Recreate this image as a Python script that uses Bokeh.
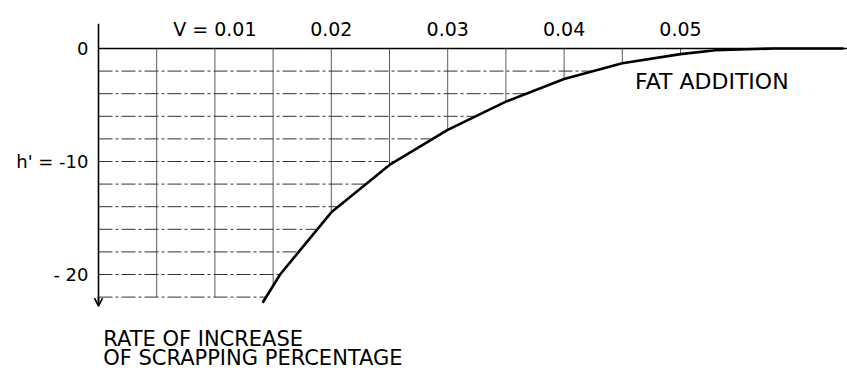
import numpy as np
from bokeh.plotting import figure
from bokeh.models import Range1d, Arrow, OpenHead, Label
from bokeh.core.properties import value
from bokeh.embed import file_html
from bokeh.resources import INLINE

# ---- data ----
v_curve = [0.0141, 0.0156, 0.020, 0.025, 0.030, 0.035, 0.040, 0.045, 0.050, 0.053, 0.058, 0.064]
h_curve = [-22.5, -20.0, -14.5, -10.3, -7.2, -4.7, -2.7, -1.3, -0.5, -0.15, 0.0, 0.0]

v_grid = [0.005, 0.010, 0.015, 0.020, 0.025, 0.030, 0.035, 0.040, 0.045, 0.050]
h_grid = [-2, -4, -6, -8, -10, -12, -14, -16, -18, -20, -22]

v_ticks = [0.01, 0.02, 0.03, 0.04, 0.05]
v_tick_labels = ["V = 0.01", "0.02", "0.03", "0.04", "0.05"]
h_ticks = [0, -10, -20]
h_tick_labels = ["0", "h' = -10", "- 20"]

curve_label = "FAT ADDITION"
axis_title = ["RATE OF INCREASE", "OF SCRAPPING PERCENTAGE"]

FONT = "DejaVu Sans"

W, H = 847, 371
PX_X = 11640.0   # pixels per unit of V
PX_Y = 11.3      # pixels per unit of h'
X0, Y0 = 98, 48  # pixel position of the origin
p = figure(width=W, height=H, output_backend="svg", toolbar_location=None,
           x_range=Range1d(-X0 / PX_X, (W - X0) / PX_X),
           y_range=Range1d((Y0 - H) / PX_Y, Y0 / PX_Y),
           min_border=0, outline_line_color=None)
p.axis.visible = False
p.grid.visible = False

h_bottom = min(h_grid)

# vertical grid lines: from zero line down to the curve (or bottom line)
v_end = np.interp(v_grid, v_curve, h_curve, left=h_bottom)
v_end = np.maximum(v_end, h_bottom)
p.segment(x0=v_grid, y0=[0] * len(v_grid), x1=v_grid, y1=v_end,
          line_color="#4a4a4a", line_width=0.9)

# horizontal grid lines: from the axis to the curve
h_end = np.interp(h_grid, h_curve, v_curve)
p.segment(x0=[0] * len(h_grid), y0=h_grid, x1=h_end, y1=h_grid,
          line_color="#333333", line_width=1, line_dash="14 3 3 3")

# zero line
p.line(x=[0, 0.075], y=[0, 0], line_color="black", line_width=1.6)

# vertical axis with arrow
p.line(x=[0, 0], y=[2.2, h_bottom - 0.5], line_color="black", line_width=1.6)
p.add_layout(Arrow(end=OpenHead(size=8, line_width=1.6, line_color="black"),
                   x_start=0, y_start=h_bottom, x_end=0, y_end=h_bottom - 0.8,
                   line_color="black", line_width=1.6))

# the curve
p.line(x=v_curve, y=h_curve, line_color="black", line_width=2.6)

# tick labels
p.text(x=v_ticks, y=[1.75] * len(v_ticks), text=v_tick_labels,
       text_font=value(FONT), text_font_size="19px", text_align="center",
       text_baseline="middle", text_color="black")
p.text(x=[0] * len(h_ticks), y=h_ticks, text=h_tick_labels,
       text_font=value(FONT), text_font_size="18px", text_align="right",
       text_baseline="middle", text_color="black", x_offset=-10)

p.add_layout(Label(x=0.0461, y=-2.92, text=curve_label, text_font=FONT,
                   text_font_size="22px", text_align="left", text_baseline="middle",
                   text_color="black"))
p.add_layout(Label(x=0.0004, y=-25.75, text=axis_title[0], text_font=FONT,
                   text_font_size="21px", text_align="left", text_baseline="middle",
                   text_color="black"))
p.add_layout(Label(x=0.0004, y=-27.35, text=axis_title[1], text_font=FONT,
                   text_font_size="21px", text_align="left", text_baseline="middle",
                   text_color="black"))

open("out.html", "w").write(file_html(p, INLINE))
